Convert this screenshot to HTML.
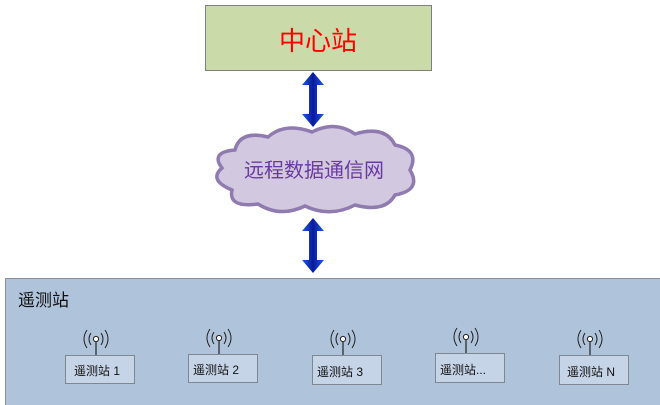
<!DOCTYPE html>
<html><head><meta charset="utf-8"><style>
html,body{margin:0;padding:0;background:#fff;width:660px;height:405px;overflow:hidden}
text{font-family:"Liberation Sans","Noto Sans CJK SC",sans-serif}
</style></head><body>
<svg width="660" height="405" viewBox="0 0 660 405" xmlns="http://www.w3.org/2000/svg">
<defs>
<linearGradient id="ag" x1="0" x2="1" y1="0" y2="0">
<stop offset="0" stop-color="#1a5ce8"/><stop offset="0.5" stop-color="#0a1a9a"/><stop offset="1" stop-color="#1a5ce8"/>
</linearGradient>
<g id="arr">
<polygon points="0,0 -11,13 -4,13 -4,42 -11,42 0,55 11,42 4,42 4,13 11,13" fill="url(#ag)"/>
</g>
<g id="ant">
<line x1="0" y1="3" x2="0" y2="16" stroke="#222" stroke-width="1.2"/>
<circle cx="0" cy="0" r="2.6" fill="#fff" stroke="#222" stroke-width="1"/>
<path d="M-5,-6 Q-9,0 -5,6 M5,-6 Q9,0 5,6 M-9,-9 Q-15,0 -9,9 M9,-9 Q15,0 9,9" fill="none" stroke="#222" stroke-width="1"/>
</g>
</defs>
<rect x="205.5" y="5.5" width="226" height="65" fill="#cbdaa9" stroke="#7f7f7f"/>
<text x="318" y="50" font-size="26" fill="#ff0000" text-anchor="middle">中心站</text>
<use href="#arr" x="313" y="72"/>
<path d="M235,150 Q240,130 268,137 Q285,122 312,132 Q335,120 355,134 Q385,125 395,145 Q420,150 410,170 Q422,190 395,195 Q385,213 355,205 Q330,218 305,206 Q280,218 258,204 Q228,208 232,190 Q208,180 222,168 Q210,152 235,150 Z" fill="#d2c9e0" stroke="#8f7bb0" stroke-width="3.5"/>
<text x="314" y="177" font-size="20" fill="#6a3aa0" text-anchor="middle">远程数据通信网</text>
<use href="#arr" x="313" y="218"/>
<rect x="5.5" y="278.5" width="660" height="130" fill="#afc3db" stroke="#8a8f99"/>
<text x="18" y="306" font-size="17" fill="#111">遥测站</text>
<g font-size="12" fill="#111">
<use href="#ant" x="96" y="339"/>
<rect x="65.5" y="355.5" width="69" height="28" fill="#c6d4e8" stroke="#7f8791"/>
<text x="74" y="375">遥测站 1</text>
<use href="#ant" x="219" y="338"/>
<rect x="188.5" y="354.5" width="69" height="28" fill="#c6d4e8" stroke="#7f8791"/>
<text x="193" y="374">遥测站  2</text>
<use href="#ant" x="343" y="339"/>
<rect x="312.5" y="355.5" width="69" height="29" fill="#c6d4e8" stroke="#7f8791"/>
<text x="317" y="376">遥测站  3</text>
<use href="#ant" x="466" y="337"/>
<rect x="435.5" y="353.5" width="69" height="29" fill="#c6d4e8" stroke="#7f8791"/>
<text x="440" y="374">遥测站...</text>
<use href="#ant" x="590" y="339"/>
<rect x="559.5" y="355.5" width="69" height="29" fill="#c6d4e8" stroke="#7f8791"/>
<text x="567" y="376">遥测站 N</text>
</g>
</svg>
</body></html>
